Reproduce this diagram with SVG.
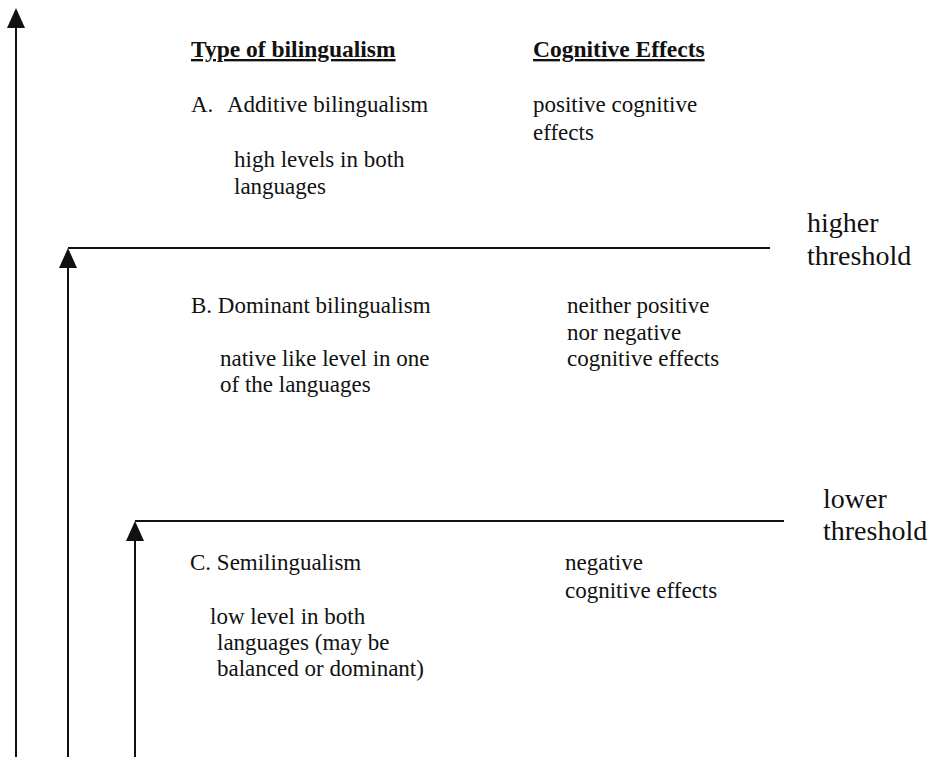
<svg xmlns="http://www.w3.org/2000/svg" width="933" height="757" viewBox="0 0 933 757">
<defs>
<marker id="ah" markerUnits="userSpaceOnUse" markerWidth="20" markerHeight="18" refX="16" refY="9" orient="auto" viewBox="0 0 20 18">
<path d="M0,0 L20,9 L0,18 Z" fill="#111"/>
</marker>
<style>
text{font-family:"Liberation Serif","Times New Roman",serif;fill:#111;}
.h{font-size:23.5px;font-weight:bold;text-decoration:underline;}
.b{font-size:23px;}
.t{font-size:28px;}
.ln{stroke:#111;stroke-width:2;fill:none;}
</style>
</defs>
<rect width="933" height="757" fill="#fff"/>
<g id="connectors">
<path class="ln" d="M16,757 V12" marker-end="url(#ah)"/>
<path class="ln" d="M68,757 V252" marker-end="url(#ah)"/>
<path class="ln" d="M68,248 H770"/>
<path class="ln" d="M135,757 V525" marker-end="url(#ah)"/>
<path class="ln" d="M135,521 H784"/>
</g>
<g id="headers">
<text class="h" x="191" y="57">Type of bilingualism</text>
<text class="h" x="533" y="57">Cognitive Effects</text>
</g>
<g id="levelA">
<text class="b" x="191" y="112">A.</text>
<text class="b" x="227" y="112">Additive bilingualism</text>
<text class="b" x="234" y="167">high levels in both</text>
<text class="b" x="234" y="194">languages</text>
<text class="b" x="533" y="112">positive cognitive</text>
<text class="b" x="533" y="140">effects</text>
</g>
<g id="higher-threshold">
<text class="t" x="807" y="232">higher</text>
<text class="t" x="807" y="265">threshold</text>
</g>
<g id="levelB">
<text class="b" x="191" y="313">B. Dominant bilingualism</text>
<text class="b" x="220" y="366">native like level in one</text>
<text class="b" x="220" y="392">of the languages</text>
<text class="b" x="567" y="313">neither positive</text>
<text class="b" x="567" y="340">nor negative</text>
<text class="b" x="567" y="366">cognitive effects</text>
</g>
<g id="lower-threshold">
<text class="t" x="823" y="508">lower</text>
<text class="t" x="823" y="540">threshold</text>
</g>
<g id="levelC">
<text class="b" x="190" y="570">C. Semilingualism</text>
<text class="b" x="210" y="624">low level in both</text>
<text class="b" x="217" y="650">languages (may be</text>
<text class="b" x="217" y="676">balanced or dominant)</text>
<text class="b" x="565" y="570">negative</text>
<text class="b" x="565" y="598">cognitive effects</text>
</g>
</svg>
